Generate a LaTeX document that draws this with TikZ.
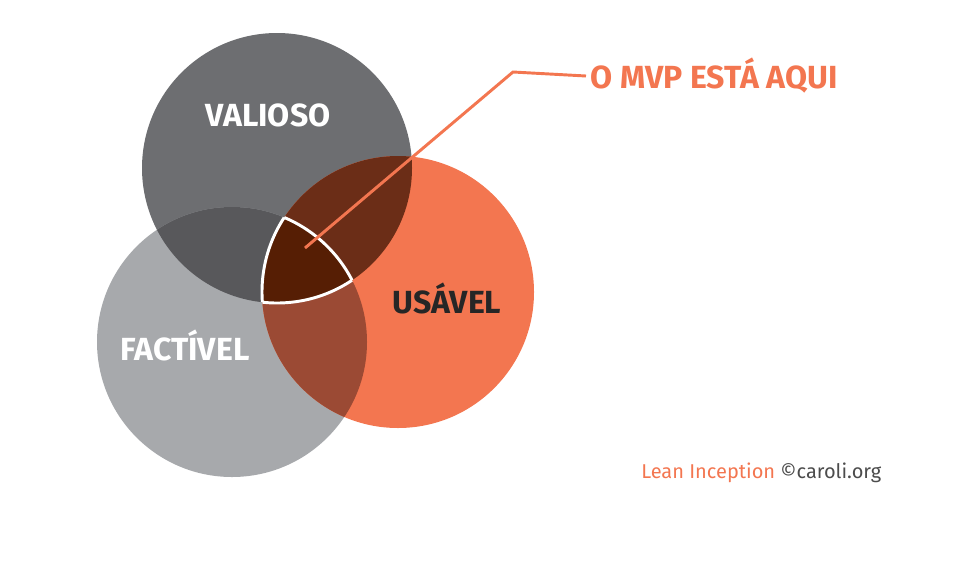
\documentclass[tikz,border=0pt]{standalone}
\usepackage{fontspec}
\setmainfont{Fira Sans}
\begin{document}
\begin{tikzpicture}[x=0.75pt,y=-0.75pt,
  lbl/.style={font=\fontsize{24}{28}\selectfont\bfseries}]
\definecolor{cV}{HTML}{6D6E71}\definecolor{cF}{HTML}{A7A9AC}\definecolor{cU}{HTML}{F37650}
\definecolor{cVF}{HTML}{58585B}\definecolor{cVU}{HTML}{6B2D17}\definecolor{cFU}{HTML}{9B4A34}
\definecolor{cT}{HTML}{561E04}
\useasboundingbox (0,0) rectangle (978,565);
\def\V{(277,168) circle[radius=135]}
\def\F{(232,342) circle[radius=135]}
\def\U{(398,292) circle[radius=136]}
\fill[cV] \V; \fill[cF] \F; \fill[cU] \U;
\begin{scope}\clip \V; \fill[cVF] \F; \end{scope}
\begin{scope}\clip \V; \fill[cVU] \U; \end{scope}
\begin{scope}\clip \F; \fill[cFU] \U; \end{scope}
\begin{scope}\clip \V; \clip \F; \fill[cT] \U; \end{scope}
\begin{scope}\clip \V; \clip \F; \draw[white,line width=2.2pt] \U; \end{scope}
\begin{scope}\clip \V; \clip \U; \draw[white,line width=2.2pt] \F; \end{scope}
\begin{scope}\clip \F; \clip \U; \draw[white,line width=2.2pt] \V; \end{scope}
\coordinate (p) at (305,248); \coordinate (k) at (513,72);
\node[lbl,text=cU,anchor=west] (mvp) at (586,76) {O MVP ESTÁ AQUI};
\draw[cU,line width=2.2pt] (p) -- (k) -- (mvp.west);
\node[lbl,white] (v) at (268,115) {VALIOSO};
\node[lbl,white] (f) at (185,345) {FACTÍVEL};
\node[lbl,text=black!85] (u) at (447,298) {USÁVEL};
\node[font=\fontsize{15}{18}\selectfont,anchor=east] (c) at (886,473) {\textcolor{cU}{Lean Inception} \textcolor{black!70}{©caroli.org}};
\end{tikzpicture}
\end{document}
